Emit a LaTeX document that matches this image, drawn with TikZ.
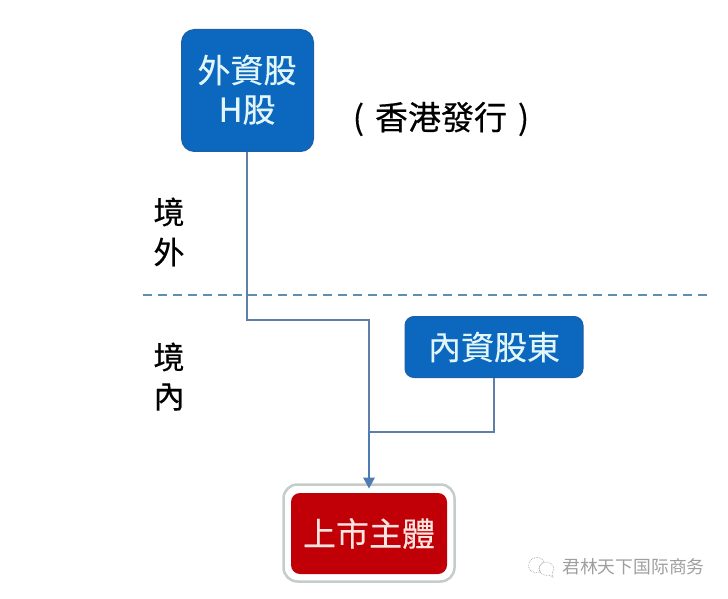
\documentclass[tikz,border=0pt]{standalone}
\usepackage{fontspec}
\newfontfamily\cjk[FakeBold=0.35]{Noto Sans CJK TC}
\newfontfamily\cjksc{Noto Sans CJK SC}
\definecolor{boxblue}{HTML}{0B68BE}
\definecolor{boxedge}{HTML}{1F5FA5}
\definecolor{boxred}{HTML}{C00006}
\definecolor{linkblue}{HTML}{5F7FA8}
\definecolor{arrowblue}{HTML}{4F7CB0}
\definecolor{dashblue}{HTML}{5F8FAF}
\definecolor{lightcyan}{HTML}{E2F6FA}
\definecolor{lightpink}{HTML}{FBE4E0}
\definecolor{halo}{HTML}{C4CCCC}
\tikzset{
  x=1pt,y=-1pt,
  bluebox/.style={draw=boxedge,line width=1pt,fill=boxblue,rounded corners=13pt,inner sep=0pt,
    text=lightcyan,font=\fontsize{33}{40}\selectfont\cjk,align=center},
  redbox/.style={fill=boxred,rounded corners=9pt,inner sep=0pt,text=lightpink,
    font=\fontsize{33}{40}\selectfont\cjk,align=center},
  haloBox/.style={draw=halo,line width=2.5pt,fill=white,rounded corners=14pt,inner sep=0pt},
  sidelabel/.style={inner sep=0pt,text=black,font=\fontsize{31}{40}\selectfont\cjk,align=center},
  link/.style={draw=linkblue,line width=1.5pt},
  mark text/.style={inner sep=0pt,text=gray!75,font=\fontsize{17.8}{20}\selectfont\cjksc},
}
\begin{document}
\begin{tikzpicture}
\useasboundingbox (0,0) rectangle (728,599);
\fill[white] (0,0) rectangle (728,599);
\node[bluebox,minimum width=132pt,minimum height=122pt] (hshare) at (247.5,90.5) {};
\node[inner sep=0pt,text=lightcyan,font=\fontsize{33}{40}\selectfont\cjk] (hline1) at (247,70) {外資股};
\node[inner sep=0pt,text=lightcyan,font=\fontsize{33}{40}\selectfont\cjk] (hline2) at (247,110) {H股};
\node[inner sep=0pt,text=black,font=\fontsize{33}{40}\selectfont\cjk] (issue) at (441,119) {(\hspace{11pt}香港發行\hspace{11pt})};
\node[sidelabel] (out1) at (169,212) {境};
\node[sidelabel] (out2) at (169,252) {外};
\node[sidelabel] (in1) at (169,357) {境};
\node[sidelabel] (in2) at (169,397) {內};
\coordinate (dashL) at (143,295);
\coordinate (dashR) at (712,295);
\draw[draw=dashblue,line width=1.3pt,dash pattern=on 9pt off 6pt] (dashL) -- (dashR);
\node[bluebox,rounded corners=9pt,minimum width=178pt,minimum height=61pt] (domestic) at (494,347) {內資股東};
\node[haloBox,minimum width=171pt,minimum height=97pt] (halo) at (369,533) {};
\node[redbox,minimum width=156pt,minimum height=81pt] (listed) at (369,533.5) {上市主體};
\coordinate (bend1) at (247,320);
\coordinate (bend2) at (369,320);
\coordinate (bend3) at (494,432);
\coordinate (join) at (369,432);
\draw[link] (hshare.south -| bend1) -- (bend1) -- (bend2) -- (join);
\draw[link] (domestic.south -| bend3) -- (bend3) -- (join);
\draw[draw=arrowblue,line width=2pt] (join) -- (369,480);
\fill[arrowblue] (363,477.5) -- (375,477.5) -- (369,488.5) -- cycle;
\draw[gray!70,line width=.7pt,densely dotted] (530,561) .. controls (533,556) and (542,556) .. (544,562) .. controls (541,563) and (537,568) .. (540,572) .. controls (536,573) and (533,573) .. (531,571) .. controls (528,569) and (528,564) .. (530,561) -- cycle;
\draw[gray!70,line width=.7pt,densely dotted] (540,572) .. controls (537,567) and (542,561) .. (547,562) .. controls (553,563) and (556,569) .. (552,573) -- (553,577) -- (549,575) .. controls (546,576) and (542,575) .. (540,572) -- cycle;
\node[mark text] (brand) at (633.5,567) {君林天下国际商务};
\end{tikzpicture}
\end{document}
